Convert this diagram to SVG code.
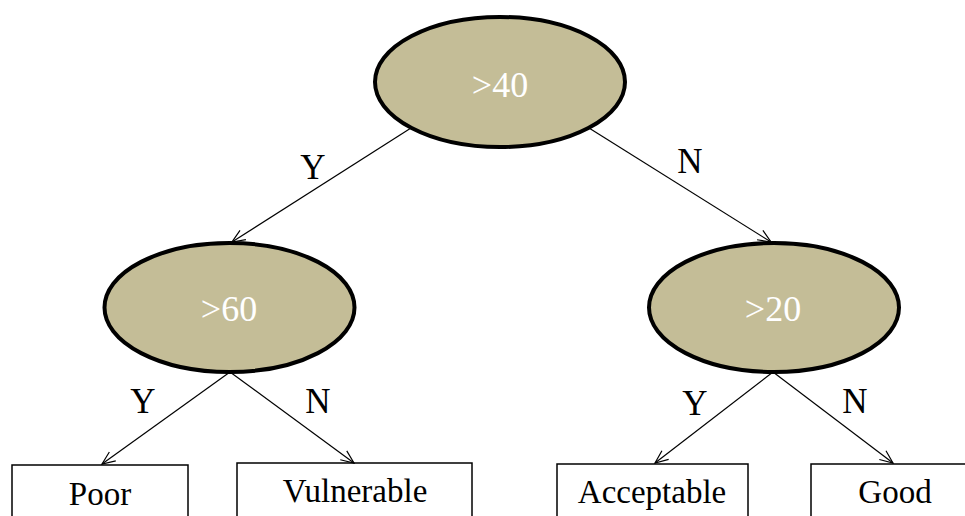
<svg xmlns="http://www.w3.org/2000/svg" width="965" height="516" viewBox="0 0 965 516">
<style>
.dec ellipse{fill:#c4bd97;stroke:#000;stroke-width:4}
.dec text{fill:#fff;font-family:"Liberation Serif","Times New Roman",serif;font-size:36px;text-anchor:middle}
.leaf rect{fill:#fff;stroke:#000;stroke-width:1.5}
.leaf text{fill:#000;font-family:"Liberation Serif","Times New Roman",serif;font-size:33px;text-anchor:middle}
.edge line{stroke:#000;stroke-width:1.2;fill:none}
.lbl{fill:#000;font-family:"Liberation Serif","Times New Roman",serif;font-size:35px;text-anchor:middle}
</style>
<defs>
<marker id="arr" markerUnits="userSpaceOnUse" markerWidth="16" markerHeight="14" refX="14" refY="7" orient="auto" overflow="visible">
<path d="M1,1.5 L14,7 L1,12.5" fill="none" stroke="#000" stroke-width="1.2"/>
</marker>
</defs>
<rect width="965" height="516" fill="#fff"/>
<g id="n40" class="dec"><ellipse cx="500" cy="82" rx="125" ry="65"/><text x="500" y="97">&gt;40</text></g>
<g id="n60" class="dec"><ellipse cx="229.5" cy="307.5" rx="125" ry="64.5"/><text x="229" y="321">&gt;60</text></g>
<g id="n20" class="dec"><ellipse cx="774" cy="307.5" rx="125" ry="64.5"/><text x="773" y="321">&gt;20</text></g>
<g id="poor" class="leaf"><rect x="12" y="465" width="176" height="70"/><text x="100" y="505">Poor</text></g>
<g id="vulnerable" class="leaf"><rect x="237" y="463" width="235" height="70"/><text x="355" y="502">Vulnerable</text></g>
<g id="acceptable" class="leaf"><rect x="557" y="464" width="191" height="70"/><text x="652" y="503">Acceptable</text></g>
<g id="good" class="leaf"><rect x="811" y="464" width="169" height="70"/><text x="895" y="503">Good</text></g>
<g id="connectors" class="edge">
<line x1="411" y1="128" x2="232" y2="242" marker-end="url(#arr)"/>
<line x1="589" y1="128" x2="771" y2="242" marker-end="url(#arr)"/>
<line x1="230" y1="372" x2="102" y2="464" marker-end="url(#arr)"/>
<line x1="230" y1="372" x2="354" y2="463" marker-end="url(#arr)"/>
<line x1="773" y1="372" x2="655" y2="463" marker-end="url(#arr)"/>
<line x1="773" y1="372" x2="893" y2="463" marker-end="url(#arr)"/>
</g>
<g id="labels">
<text class="lbl" x="313" y="179">Y</text>
<text class="lbl" x="690" y="173">N</text>
<text class="lbl" x="143" y="413">Y</text>
<text class="lbl" x="318" y="413">N</text>
<text class="lbl" x="695" y="415">Y</text>
<text class="lbl" x="855" y="413">N</text>
</g>
</svg>
